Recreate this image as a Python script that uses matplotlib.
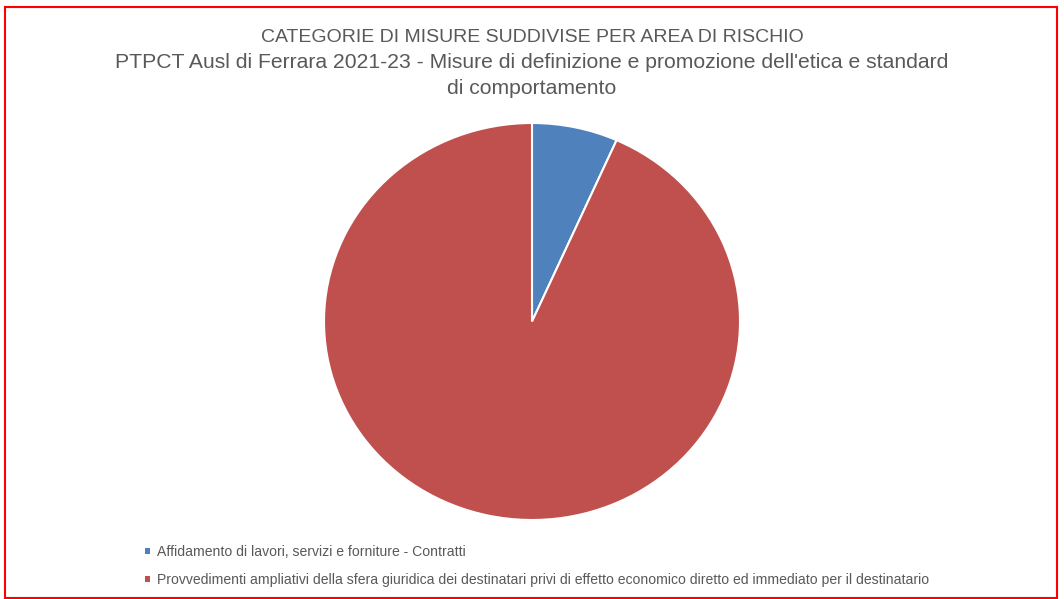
import matplotlib
matplotlib.use("Agg")
import matplotlib.pyplot as plt
from matplotlib.patches import Patch, Rectangle

# Risk area categories and number of measures in each
categories = [
    "Affidamento di lavori, servizi e forniture - Contratti",
    "Provvedimenti ampliativi della sfera giuridica dei destinatari privi di effetto economico diretto ed immediato per il destinatario",
]
counts = [1, 14]
colors = ["#4F81BD", "#C0504D"]

title_lines = [
    "CATEGORIE DI MISURE SUDDIVISE PER AREA DI RISCHIO",
    "PTPCT Ausl di Ferrara 2021-23 - Misure di definizione e promozione dell'etica e standard",
    "di comportamento",
]

plt.rcParams["font.family"] = ["Liberation Sans", "DejaVu Sans"]

W, H = 1064, 599
fig = plt.figure(figsize=(W / 100, H / 100), dpi=100)
fig.patch.set_facecolor("white")

# Pie axes (slightly wider than tall, as in the original layout)
ax = fig.add_axes([324 / W, (H - 520) / H, 416 / W, 397 / H])
ax.pie(counts, colors=colors, startangle=90, counterclock=False,
       wedgeprops=dict(edgecolor="white", linewidth=1.5))
ax.set_aspect("auto")
ax.set_xlim(-1, 1)
ax.set_ylim(-1, 1)
ax.axis("off")

# Title, three centred lines (the all-caps line set a touch smaller)
title_y = [37, 63, 89]
title_sizes = [14.0, 15.2, 15.2]
for txt, y, fs in zip(title_lines, title_y, title_sizes):
    fig.text(532 / W, 1 - y / H, txt, ha="center", va="center",
             fontsize=fs, color="#595959")

# Legend below the pie
handles = [Patch(facecolor=c, edgecolor="none") for c in colors]
fig.legend(handles, categories, loc="upper left",
           bbox_to_anchor=(145 / W, 1 - 545 / H), frameon=False,
           fontsize=10.1, handlelength=0.35, handleheight=0.35,
           handletextpad=0.5, labelspacing=1.0, labelcolor="#595959",
           borderaxespad=0, borderpad=0)

# Red frame around the whole chart
fig.patches.append(Rectangle((5 / W, 1 / H), 1052 / W, 591 / H,
                             transform=fig.transFigure, fill=False,
                             edgecolor="#FF0000", linewidth=1.5))

fig.savefig("out.png", dpi=100, facecolor="white")
